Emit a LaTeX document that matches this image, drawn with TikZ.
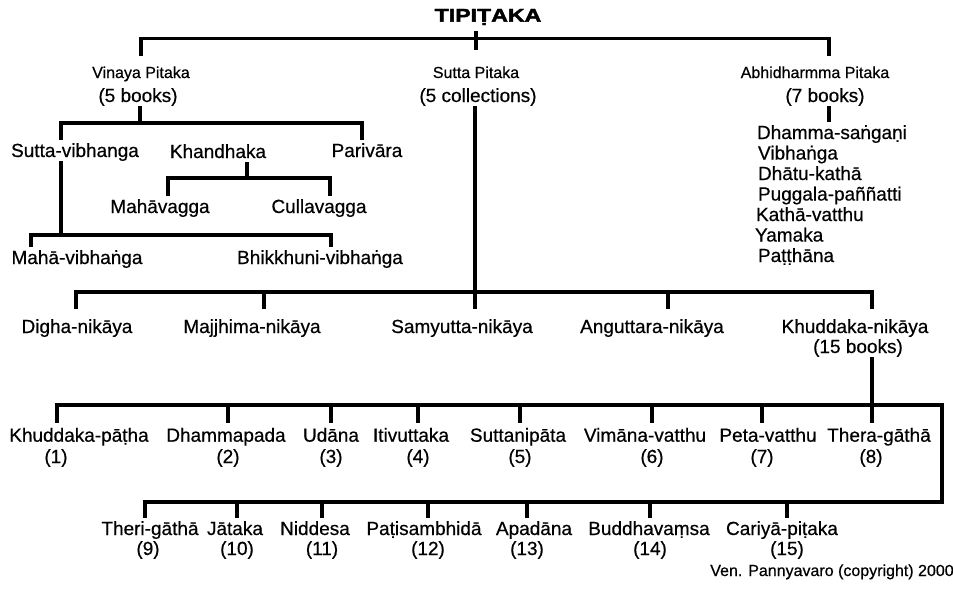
\documentclass[tikz,border=0pt]{standalone}
\usepackage{fontspec}
\setmainfont{Liberation Sans}[FakeBold=0.5]
\newfontfamily\ttlfont{Liberation Sans Bold}[FakeBold=2.2]
\usepackage{graphicx}
\newcommand\fsA{\fontsize{19}{22}\selectfont}
\newcommand\fsB{\fontsize{16}{18}\selectfont}
\begin{document}
\begin{tikzpicture}[x=1pt,y=-1pt,
  ln/.style={line width=3.8pt, line join=miter, line cap=butt},
  lbl/.style={font=\fsA, inner sep=0pt, outer xsep=0pt, outer ysep=3pt, text height=14pt, text depth=1pt, anchor=base},
  nik/.style={lbl, outer ysep=10pt},
  kbk/.style={lbl, outer ysep=5pt},
  pit/.style={font=\fsB, inner sep=0pt, outer xsep=0pt, outer ysep=8pt, text height=14pt, text depth=1pt, anchor=base},
  lst/.style={lbl, anchor=base west},
  ttl/.style={font=\ttlfont\fontsize{18.5}{20}\selectfont, inner sep=0pt, anchor=base},
  cpy/.style={font=\fsB, inner sep=0pt, anchor=base}]
\fill[white] (0,0) rectangle (953,594);
\useasboundingbox (0,0) rectangle (953,594);

% title and pitakas
\node[ttl] (tip) at (488,21.7) {\scalebox{1.25}[1]{TIPIṬAKA}};
\node[pit] (vin) at (141,78) {Vinaya Pitaka};
\node[lbl] (vinb) at (138,102) {(5 books)};
\node[pit] (sut) at (476,78) {Sutta Pitaka};
\node[lbl] (sutb) at (478,102) {(5 collections)};
\node[pit] (abh) at (815,78) {Abhidharmma Pitaka};
\node[lbl] (abhb) at (825,102) {(7 books)};

% vinaya subtree
\node[lbl] (sv) at (75,157) {Sutta-vibhanga};
\node[lbl] (kh) at (218,158) {Khandhaka};
\node[lbl] (pa) at (367,157) {Parivāra};
\node[lbl] (mhv) at (160,213) {Mahāvagga};
\node[lbl] (cv) at (319,213) {Cullavagga};
\node[lbl] (mvb) at (77,264) {Mahā-vibhaṅga};
\node[lbl] (bvb) at (320,264) {Bhikkhuni-vibhaṅga};

% abhidhamma list
\node[lst] (a1) at (757,139) {Dhamma-saṅgaṇi};
\node[lst] (a2) at (758,159.5) {Vibhaṅga};
\node[lst] (a3) at (758,180) {Dhātu-kathā};
\node[lst] (a4) at (758,200.5) {Puggala-paññatti};
\node[lst] (a5) at (756,221) {Kathā-vatthu};
\node[lst] (a6) at (755,241.5) {Yamaka};
\node[lst] (a7) at (758,262) {Paṭṭhāna};

% nikayas
\node[nik] (dn) at (77,333) {Digha-nikāya};
\node[nik] (mn) at (252,333) {Majjhima-nikāya};
\node[nik] (sn) at (462,333) {Samyutta-nikāya};
\node[nik] (an) at (652,333) {Anguttara-nikāya};
\node[nik] (kn) at (855,333) {Khuddaka-nikāya};
\node[lbl] (knb) at (858,353) {(15 books)};

% khuddaka row 1
\node[kbk] (kp) at (79,441.7) {Khuddaka-pāṭha};
\node[kbk] (dp) at (226,441.7) {Dhammapada};
\node[kbk] (ud) at (331,441.7) {Udāna};
\node[kbk] (it) at (411,441.7) {Itivuttaka};
\node[kbk] (sp) at (518,441.7) {Suttanipāta};
\node[kbk] (vv) at (645,441.7) {Vimāna-vatthu};
\node[kbk] (pv) at (768,441.7) {Peta-vatthu};
\node[kbk] (tg) at (879,441.7) {Thera-gāthā};
\node[lbl] (n1) at (56,463) {(1)};
\node[lbl] (n2) at (228,463) {(2)};
\node[lbl] (n3) at (331,463) {(3)};
\node[lbl] (n4) at (418,463) {(4)};
\node[lbl] (n5) at (520,463) {(5)};
\node[lbl] (n6) at (652,463) {(6)};
\node[lbl] (n7) at (762,463) {(7)};
\node[lbl] (n8) at (871,463) {(8)};

% khuddaka row 2
\node[lbl] (tr) at (150,535) {Theri-gāthā};
\node[lbl] (ja) at (235,535) {Jātaka};
\node[lbl] (ni) at (315,535) {Niddesa};
\node[lbl] (ps) at (424,535) {Paṭisambhidā};
\node[lbl] (ap) at (534,535) {Apadāna};
\node[lbl] (bv) at (649,535) {Buddhavaṃsa};
\node[lbl] (cp) at (782,535) {Cariyā-piṭaka};
\node[lbl] (m9) at (148,555) {(9)};
\node[lbl] (m10) at (237,555) {(10)};
\node[lbl] (m11) at (322,555) {(11)};
\node[lbl] (m12) at (428,555) {(12)};
\node[lbl] (m13) at (527,555) {(13)};
\node[lbl] (m14) at (650,555) {(14)};
\node[lbl] (m15) at (787,555) {(15)};

\node[cpy] (copy) at (832,576) {Ven. Pannyavaro (copyright) 2000};

% top level
\coordinate (tb) at (476,38.5);
\coordinate (abx) at (829,38.5);
\draw[ln] ([yshift=7.5pt]tb) -- ([yshift=-11.5pt]tb);
\draw[ln] (vin.north) |- (tb) -| (abh.north -| abx);

% vinaya
\coordinate (vC) at (140,123);
\coordinate (vL) at (61,123);
\coordinate (vR) at (362,123);
\draw[ln] (vinb.south -| vC) -- (vC);
\draw[ln] (sv.north -| vL) -- (vL) -- (vR) -- (pa.north -| vR);
\coordinate (sC) at (61,235);
\coordinate (sL) at (31,235);
\coordinate (sR) at (331,235);
\draw[ln] (sv.south -| sC) -- (sC);
\draw[ln] (mvb.north -| sL) -- (sL) -- (sR) -- (bvb.north -| sR);
\coordinate (kC) at (247,178);
\coordinate (kL) at (168,178);
\coordinate (kR) at (330,178);
\draw[ln] (kh.south -| kC) -- (kC);
\draw[ln] (mhv.north -| kL) -- (kL) -- (kR) -- (cv.north -| kR);

% abhidhamma
\draw[ln] (abhb.south -| abx) -- (a1.north -| abx);

% sutta
\coordinate (nC) at (475,292);
\coordinate (nL) at (76,292);
\coordinate (nM) at (264,292);
\coordinate (nA) at (668,292);
\coordinate (nR) at (872,292);
\draw[ln] (sutb.south -| nC) -- (sn.north -| nC);
\draw[ln] (dn.north -| nL) -- (nL) -- (nR) -- (kn.north -| nR);
\draw[ln] (nM) -- (mn.north -| nM);
\draw[ln] (nA) -- (an.north -| nA);

% khuddaka
\coordinate (kbL) at (57,405);
\coordinate (kbR) at (942,405);
\coordinate (kbX) at (872,405);
\coordinate (bbR) at (942,502);
\coordinate (bbL) at (145,502);
\draw[ln] (knb.south -| kbX) -- (tg.north -| kbX);
\draw[ln] (kp.north -| kbL) -- (kbL) -- (kbR) -- (bbR) -- (bbL) -- (tr.north -| bbL);
\foreach \a/\b in {dp/n2, ud/n3, it/n4, sp/n5, vv/n6, pv/n7}
  \draw[ln] (kbL -| \b) -- (\a.north -| \b);
\foreach \a/\b in {ja/m10, ni/m11, ps/m12, ap/m13, bv/m14, cp/m15}
  \draw[ln] (bbL -| \b) -- (\a.north -| \b);
\end{tikzpicture}
\end{document}
